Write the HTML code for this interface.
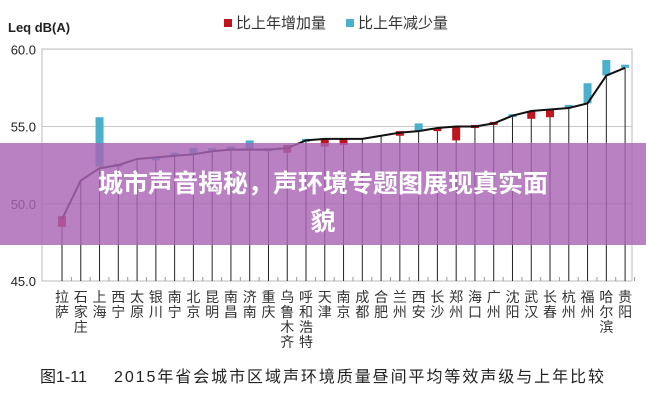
<!DOCTYPE html><html><head><meta charset="utf-8"><style>
body{margin:0;width:646px;height:400px;background:#fff;overflow:hidden;position:relative;font-family:"Liberation Sans","Noto Sans CJK SC",sans-serif}
svg{position:absolute;left:0;top:0}
.banner{position:absolute;left:0;top:143px;width:646px;height:102px;background:rgba(170,100,180,0.82);color:#fff;font-weight:bold;font-size:25px;text-align:center;line-height:38px;padding-top:22px;box-sizing:border-box;font-family:"Liberation Sans","Noto Sans CJK SC",sans-serif}
</style></head><body>
<svg id="s" width="646" height="400" font-family="Liberation Sans, Noto Sans CJK SC, sans-serif"></svg>
<div class="banner">城市声音揭秘，声环境专题图展现真实面<br>貌</div>
<script>
const s=document.getElementById('s');
const cities=["拉萨","石家庄","上海","西宁","太原","银川","南宁","北京","昆明","南昌","济南","重庆","乌鲁木齐","呼和浩特","天津","南京","成都","合肥","兰州","西安","长沙","郑州","海口","广州","沈阳","武汉","长春","杭州","福州","哈尔滨","贵阳"];
const v=[49.0,51.5,52.3,52.5,52.9,53.0,53.1,53.2,53.4,53.5,53.5,53.5,53.6,54.1,54.2,54.2,54.2,54.4,54.6,54.7,54.9,55.0,55.0,55.2,55.7,56.0,56.1,56.2,56.5,58.3,58.8];
const bars={0:[48.5,49.2,'r'],2:[52.4,55.6,'c'],3:[52.4,52.6,'c'],5:[52.9,53.0,'c'],6:[53.1,53.3,'c'],7:[53.2,53.6,'c'],8:[53.4,53.6,'c'],9:[53.5,53.7,'c'],10:[53.5,54.1,'c'],11:[53.5,53.6,'c'],12:[53.3,53.8,'r'],13:[54.1,54.2,'c'],14:[53.7,54.2,'r'],15:[53.8,54.2,'r'],18:[54.4,54.7,'r'],19:[54.7,55.2,'c'],20:[54.7,54.9,'r'],21:[54.1,55.0,'r'],22:[54.9,55.1,'r'],23:[55.1,55.3,'r'],24:[55.7,55.8,'c'],25:[55.5,56.0,'r'],26:[55.6,56.1,'r'],27:[56.2,56.4,'c'],28:[56.5,57.8,'c'],29:[58.3,59.3,'c'],30:[58.8,59.0,'c']};
const Y=x=>281-(x-45)*15.45, X=i=>62+i*18.77;
let h='';
h+=`<rect x="42" y="49" width="590" height="232" fill="none" stroke="#bbb"/>`;
[60,55,50].forEach(t=>h+=`<line x1="42" x2="632" y1="${Y(t)}" y2="${Y(t)}" stroke="#c8c8c8"/>`);
[60,55,50,45].forEach(t=>h+=`<text x="36" y="${Y(t)+5}" font-size="13" text-anchor="end" fill="#222">${t.toFixed(1)}</text>`);
for(let i=0;i<31;i++){h+=`<line x1="${X(i)}" x2="${X(i)}" y1="${Y(v[i])}" y2="281" stroke="#222" stroke-width="1"/>`;
 h+=`<line x1="${X(i)+9.4}" x2="${X(i)+9.4}" y1="281" y2="277" stroke="#999"/>`;
 [...cities[i]].forEach((c,k)=>h+=`<text x="${X(i)}" y="${302+k*15}" font-size="14" text-anchor="middle" fill="#333">${c}</text>`);}
for(const k in bars){const [lo,hi,c]=bars[k];h+=`<rect x="${X(+k)-4}" y="${Y(hi)}" width="8" height="${Math.max(3,Y(lo)-Y(hi))}" fill="${c=='r'?'#c0141e':'#4ab0cc'}"/>`;}
h+=`<polyline fill="none" stroke="#111" stroke-width="2" points="${v.map((x,i)=>X(i)+','+Y(x)).join(' ')}"/>`;
h+=`<text x="8" y="32" font-size="13" font-weight="bold" fill="#222">Leq dB(A)</text>`;
h+=`<rect x="224" y="19" width="8" height="8" fill="#c0141e"/><text x="236" y="28" font-size="15" fill="#333">比上年增加量</text>`;
h+=`<rect x="346" y="19" width="8" height="8" fill="#4ab0cc"/><text x="358" y="28" font-size="15" fill="#333">比上年减少量</text>`;
h+=`<text x="40" y="382" font-size="16" fill="#222">图1-11</text><text x="114" y="382" font-size="16" fill="#222" textLength="490">2015年省会城市区域声环境质量昼间平均等效声级与上年比较</text>`;
s.innerHTML=h;
</script>
</body></html>
